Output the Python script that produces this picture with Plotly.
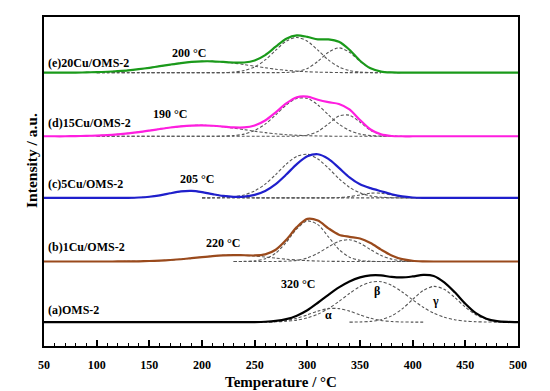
import plotly.graph_objects as go

# ---- data (heights in arbitrary units above each curve's baseline) ----
temps = list(range(50, 501, 10))

# main measured curves: (start temperature, values every 10 °C)
a_main = (230, [0, 0.05, 0.1, 0.4, 1.2, 3.0, 6.5, 12.0, 19.5, 27.5, 35.0, 41.0, 45.0, 47.0,
                47.0, 45.5, 45.0, 46.0, 47.5, 46.5, 40.0, 30.0, 18.5, 9.0, 3.5, 1.0, 0.2, 0])
b_main = (110, [0, 0.05, 0.1, 0.24, 0.5, 0.9, 1.5, 2.3, 3.4, 4.5, 5.5, 6.2, 6.5, 6.3, 6.1, 7.2,
                11.8, 21.8, 34.6, 42.9, 41.2, 33.4, 27.0, 24.8, 23.1, 18.6, 12.0, 6.1, 2.4,
                0.75, 0.2, 0])
c_main = (110, [0, 0.02, 0.1, 0.4, 1.15, 2.6, 4.7, 6.5, 7.0, 5.8, 3.8, 2.0, 1.1, 1.3, 3.1, 7.0,
                13.9, 23.5, 34.0, 41.8, 43.9, 39.3, 30.2, 20.7, 13.7, 9.8, 6.7, 3.7, 1.45,
                0.4, 0.06, 0])
d_main = (80, [0.2, 0.4, 0.7, 1.2, 2.0, 3.0, 4.2, 5.7, 7.3, 8.8, 10.0, 10.8, 11.0, 10.6, 9.8,
               8.9, 8.9, 10.9, 15.9, 24.1, 33.1, 39.3, 39.9, 36.7, 34.3, 32.5, 27.0, 16.4,
               6.8, 1.9, 0.3, 0])
e_main = (80, [0, 0.3, 0.5, 0.9, 1.5, 2.3, 3.5, 4.9, 6.5, 8.1, 9.6, 10.8, 11.4, 11.4, 10.8,
               10.2, 10.2, 12.3, 17.7, 26.1, 34.2, 37.5, 36.0, 33.5, 33.5, 31.0, 23.0, 12.0,
               4.4, 1.1, 0.2, 0])

# fitted component peaks (dashed)
a_alpha = (240, [0, 0.04, 0.18, 0.6, 1.7, 3.9, 7.3, 11.1, 13.6, 13.6, 11.1, 7.3, 3.9, 1.7,
                 0.6, 0.18, 0.04, 0])
a_beta = (240, [0, 0.04, 0.12, 0.34, 0.87, 2.0, 4.25, 8.0, 13.6, 20.9, 28.8, 35.9, 40.2,
                40.7, 37.0, 30.4, 22.5, 15.0, 9.0, 4.9, 2.4, 1.0, 0.4, 0.15, 0.05, 0])
a_gamma = (340, [0, 0.2, 0.77, 2.45, 6.3, 13.3, 22.8, 31.8, 36.0, 33.1, 24.8, 15.1, 7.5,
                 3.0, 1.0, 0.26, 0.06])
b_comp1 = (110, [0, 0.05, 0.11, 0.24, 0.48, 0.88, 1.5, 2.3, 3.4, 4.5, 5.5, 6.2, 6.5, 6.2,
                 5.5, 4.5, 3.4, 2.3, 1.5, 0.88, 0.48, 0.24, 0.11, 0.05, 0, 0, 0, 0, 0, 0, 0])
b_comp2 = (230, [0, 0.1, 0.6, 2.7, 8.4, 19.4, 32.8, 40.8, 37.1, 24.9, 12.2, 4.4, 1.2, 0.2,
                 0.03, 0, 0, 0, 0, 0])
b_comp3 = (230, [0, 0, 0, 0, 0.07, 0.33, 1.2, 3.6, 8.3, 14.7, 20.3, 21.9, 18.4, 12.0, 6.1,
                 2.4, 0.75, 0.18, 0])
c_comp1 = (110, [0, 0.02, 0.1, 0.4, 1.15, 2.6, 4.7, 6.5, 7.0, 5.8, 3.8, 1.9, 0.8, 0.24,
                 0.06, 0, 0, 0, 0, 0, 0, 0, 0, 0, 0, 0, 0, 0, 0, 0, 0])
c_comp2 = (200, [0, 0.09, 0.34, 1.1, 3.0, 7.0, 13.9, 23.5, 34.0, 41.8, 43.9, 39.2, 29.9,
                 19.4, 10.7, 5.1, 2.0, 0.7, 0.2, 0.05, 0, 0])
c_comp3 = (200, [0, 0, 0, 0, 0, 0, 0, 0, 0, 0, 0, 0.01, 0.06, 0.33, 1.25, 3.0, 4.7, 4.7,
                 3.0, 1.25, 0.33, 0.06, 0])
d_comp1 = (80, [0.2, 0.4, 0.7, 1.2, 2.0, 3.0, 4.2, 5.7, 7.3, 8.8, 10.0, 10.8, 11.0, 10.6,
                9.6, 8.2, 6.7, 5.1, 3.7, 2.5, 1.6, 1.0, 0.6, 0.3, 0.15, 0, 0, 0, 0, 0, 0])
d_comp2 = (100, [0, 0, 0, 0, 0, 0, 0, 0, 0, 0, 0, 0, 0.2, 0.7, 2.2, 5.8, 12.2, 21.6, 31.5,
                 38.1, 38.1, 31.5, 21.6, 12.2, 5.8, 2.2, 0.7, 0.2, 0])
d_comp3 = (100, [0, 0, 0, 0, 0, 0, 0, 0, 0, 0, 0, 0, 0, 0, 0, 0, 0, 0, 0, 0.2, 1.2, 4.9,
                 12.5, 20.3, 21.2, 14.2, 6.1, 1.7, 0.3, 0])
e_comp1 = (90, [0.3, 0.5, 0.9, 1.5, 2.3, 3.5, 4.9, 6.5, 8.1, 9.6, 10.8, 11.4, 11.4, 10.8,
                9.6, 8.1, 6.5, 4.9, 3.5, 2.3, 1.5, 0.9, 0.5, 0.3, 0.1, 0, 0, 0, 0])
e_comp2 = (100, [0, 0, 0, 0, 0, 0, 0, 0, 0, 0, 0, 0, 0, 0.6, 2.1, 5.8, 12.8, 22.6, 31.7,
                 35.5, 31.7, 22.6, 12.8, 5.8, 2.1, 0.6, 0.1, 0])
e_comp3 = (100, [0, 0, 0, 0, 0, 0, 0, 0, 0, 0, 0, 0, 0, 0, 0, 0, 0, 0.05, 0.2, 1.1, 4.3,
                 11.4, 20.6, 25.0, 20.6, 11.4, 4.3, 1.1, 0.2, 0])

sample_names = ["(a)OMS-2", "(b)1Cu/OMS-2", "(c)5Cu/OMS-2", "(d)15Cu/OMS-2", "(e)20Cu/OMS-2"]
peak_labels = ["320 °C", "220 °C", "205 °C", "190 °C", "200 °C"]
peak_label_temps = [291, 220, 195, 170, 188]
component_labels = ["α", "β", "γ"]
component_label_temps = [320, 366, 422]

# ---- layout / style constants ----
offsets = [24, 85, 149, 211, 275]
colors = ["#000000", "#9a4a1c", "#1f1fcc", "#ff1ee0", "#1a9a1a"]
mains = [a_main, b_main, c_main, d_main, e_main]
comps = [[a_alpha, a_beta, a_gamma], [b_comp1, b_comp2, b_comp3],
         [c_comp1, c_comp2, c_comp3], [d_comp1, d_comp2, d_comp3],
         [e_comp1, e_comp2, e_comp3]]
FONT = "Liberation Serif"


def series(spec, full=False):
    start, vals = spec
    i0 = temps.index(start)
    xs = temps[i0:i0 + len(vals)]
    ys = list(vals)
    if full:
        xs = temps[:i0] + xs + temps[i0 + len(vals):]
        ys = [0] * i0 + ys + [0] * (len(temps) - i0 - len(vals))
    return xs, ys


fig = go.Figure()
for k in range(5):
    off = offsets[k]
    for comp in comps[k]:
        xs, ys = series(comp)
        fig.add_trace(go.Scatter(x=xs, y=[off + v for v in ys], mode="lines",
                                 line=dict(color="#555555", width=1.1, dash="3px,2px",
                                           shape="spline", smoothing=0.8),
                                 hoverinfo="skip", showlegend=False))
    xs, ys = series(mains[k], full=True)
    fig.add_trace(go.Scatter(x=xs, y=[off + v for v in ys], mode="lines",
                             line=dict(color=colors[k], width=2.2, shape="spline",
                                       smoothing=0.8),
                             showlegend=False))

annots = []
name_y = [12, 15, 14, 13, 10]
label_y = [38, 19, 19, 22, 20]
for k in range(5):
    annots.append(dict(x=52, y=offsets[k] + name_y[k], xref="x", yref="y",
                       text=sample_names[k], showarrow=False, xanchor="left",
                       font=dict(family=FONT, size=12, color="black", weight="bold")))
    annots.append(dict(x=peak_label_temps[k], y=offsets[k] + label_y[k], xref="x", yref="y",
                       text=peak_labels[k], showarrow=False,
                       font=dict(family=FONT, size=12, color="black", weight="bold")))
comp_label_y = [7, 31, 21]
for lbl, t, yy in zip(component_labels, component_label_temps, comp_label_y):
    annots.append(dict(x=t, y=offsets[0] + yy, xref="x", yref="y", text=lbl,
                       showarrow=False,
                       font=dict(family=FONT, size=12, color="black", weight="bold")))
annots.append(dict(x=-0.05, y=0.565, xref="paper", yref="paper", text="Intensity / a.u.",
                   textangle=-90, showarrow=False,
                   font=dict(family=FONT, size=15.5, color="black", weight="bold")))

fig.update_layout(
    width=550, height=391,
    margin=dict(l=36, r=40, t=7, b=53),
    plot_bgcolor="white", paper_bgcolor="white",
    annotations=annots,
    xaxis=dict(range=[50, 500], tickvals=list(range(50, 501, 50)), ticks="inside",
               ticklen=6, tickwidth=1.5, tickcolor="black", ticklabelstandoff=7,
               minor=dict(dtick=10, tick0=50, ticks="inside", ticklen=3, tickwidth=1.2,
                          tickcolor="black"),
               showline=True, linewidth=1.6, linecolor="black", mirror=True,
               showgrid=False, zeroline=False,
               tickfont=dict(family=FONT, size=12, color="black", weight="bold"),
               title=dict(text="Temperature / °C", standoff=5,
                          font=dict(family=FONT, size=15, color="black", weight="bold"))),
    yaxis=dict(range=[0, 331], showticklabels=False, ticks="", showline=True,
               linewidth=1.6, linecolor="black", mirror=True, showgrid=False,
               zeroline=False),
)

fig.write_html("out.html")
